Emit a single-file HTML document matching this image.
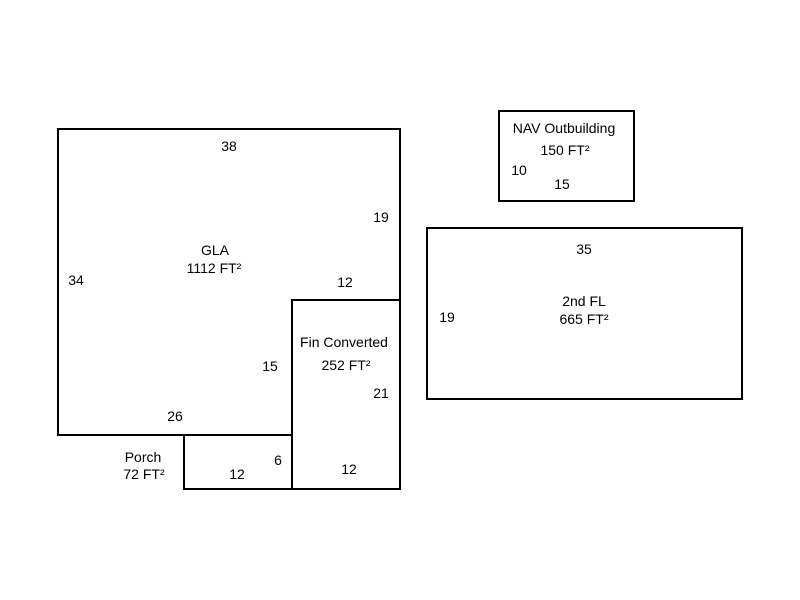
<!DOCTYPE html>
<html><head><meta charset="utf-8"><style>
html,body{margin:0;padding:0;background:#fff;}
svg{display:block;}
text{font-family:"Liberation Sans",Arial,sans-serif;font-size:14px;fill:#000;}
</style></head><body>
<svg width="800" height="600" viewBox="0 0 800 600" xmlns="http://www.w3.org/2000/svg">
<g fill="none" stroke="#000" stroke-width="2">
<polyline points="292,435 58,435 58,129 400,129 400,300"/>
<rect x="292" y="300" width="108" height="189"/>
<rect x="184" y="435" width="108" height="54"/>
<rect x="499" y="111" width="135" height="90"/>
<rect x="427" y="228" width="315" height="171"/>
</g>
<g text-anchor="middle">
<text x="229" y="151">38</text>
<text x="381" y="222">19</text>
<text x="215" y="255">GLA</text>
<text x="214" y="273">1112 FT²</text>
<text x="76" y="285">34</text>
<text x="345" y="287">12</text>
<text x="344" y="347">Fin Converted</text>
<text x="346" y="370">252 FT²</text>
<text x="270" y="371">15</text>
<text x="381" y="398">21</text>
<text x="175" y="421">26</text>
<text x="143" y="462">Porch</text>
<text x="144" y="479">72 FT²</text>
<text x="278" y="465">6</text>
<text x="237" y="479">12</text>
<text x="349" y="474">12</text>
<text x="564" y="133">NAV Outbuilding</text>
<text x="565" y="155">150 FT²</text>
<text x="519" y="175">10</text>
<text x="562" y="189">15</text>
<text x="584" y="254">35</text>
<text x="584" y="306">2nd FL</text>
<text x="584" y="324">665 FT²</text>
<text x="447" y="322">19</text>
</g>
</svg>
</body></html>
